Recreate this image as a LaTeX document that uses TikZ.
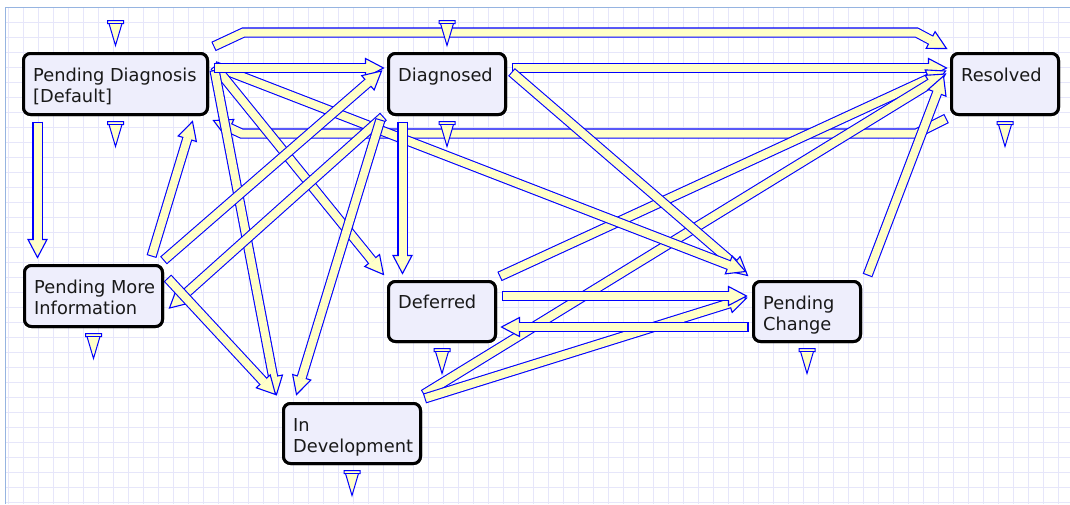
\documentclass[tikz,border=0pt]{standalone}
\usepackage{fontspec}
\setmainfont{DejaVu Sans}
\usetikzlibrary{calc}
\definecolor{ablue}{RGB}{0,0,255}
\definecolor{ayel}{RGB}{255,255,200}
\definecolor{boxfill}{RGB}{238,238,252}
\definecolor{gridc}{RGB}{230,230,250}
\definecolor{framec}{RGB}{150,180,225}
\definecolor{txtc}{RGB}{25,25,25}
% block arrow: #1 start, #2 point after start, #3 middle path (bends, each followed by --),
% #4 last point before tip, #5 tip
\newcommand\barr[5]{%
  \draw[line width=10.2pt, draw=ablue, line join=miter, line cap=butt] (#1) -- #3 ($(#5)!17pt!(#4)$);
  \filldraw[fill=ayel, draw=ablue, line width=1.1pt, line join=miter]
    (#5) -- ($(#5)!18pt!(#4)!9.5pt!90:(#5)$) -- ($(#5)!18pt!(#4)!9.5pt!-90:(#5)$) -- cycle;
  \draw[line width=8pt, draw=ayel, line join=miter, line cap=butt] ($(#1)!1.1pt!(#2)$) -- #3 ($(#5)!17pt!(#4)$);
}
\newcommand\sarr[2]{\barr{#1}{#2}{}{#1}{#2}}
\begin{document}
\begin{tikzpicture}[x=1pt,y=-1pt,
  stbox/.style={draw=black, line width=3pt, rounded corners=7pt, fill=boxfill, inner sep=0pt},
  lbl/.style={anchor=north west, inner sep=0pt, align=left, text=txtc,
    font=\fontsize{17.8}{21}\selectfont},
  mk/.pic={
    \filldraw[fill=ayel, draw=ablue, line width=1pt, line join=miter]
      (-8,0) -- (8,0) -- (8,3) -- (6.5,3) -- (0,25) -- (-6.5,3) -- (-8,3) -- cycle;
    \draw[ablue, line width=1pt] (-6.5,3) -- (6.5,3);
  }]
\useasboundingbox (0,0) rectangle (1070,504);
\fill[white] (0,0) rectangle (1070,504);
% grid
\foreach \x in {8,23,...,1068} \draw[gridc, line width=1pt] (\x,7) -- (\x,504);
\foreach \y in {22,37,...,502} \draw[gridc, line width=1pt] (5,\y) -- (1070,\y);
\draw[framec, line width=1pt] (1070,7) -- (5,7) -- (5,504);

% state boxes
\node[stbox, minimum width=184pt, minimum height=61pt] (pd) at (115.5,84) {};
\node[stbox, minimum width=117pt, minimum height=61pt] (dg) at (447,84) {};
\node[stbox, minimum width=107pt, minimum height=61pt] (rs) at (1005,84) {};
\node[stbox, minimum width=138pt, minimum height=61pt] (pmi) at (93.5,296) {};
\node[stbox, minimum width=107pt, minimum height=60pt] (df) at (442,311.5) {};
\node[stbox, minimum width=107pt, minimum height=60pt] (pc) at (807,311.5) {};
\node[stbox, minimum width=137pt, minimum height=60pt] (id) at (352,433.5) {};

% connector end points
\coordinate (a1s) at ($(pd.north east)+(4.5,-5.5)$);
\coordinate (a1b) at ($(pd.north east)+(34.5,-19.5)$);
\coordinate (a1c) at ($(rs.north west)+(-33.5,-19.5)$);
\coordinate (a1e) at ($(rs.north west)+(-3.5,-3.5)$);
\coordinate (a2s) at ($(pd.east)+(4.5,-16)$);
\coordinate (a2e) at ($(dg.west)+(-3.5,-16)$);
\coordinate (a3s) at ($(pd.south west)+(15.5,5.5)$);
\coordinate (a3e) at ($(pmi.north west)+(14.5,-6.5)$);
\coordinate (a4s) at ($(pd.east)+(5.5,-14)$);
\coordinate (a4e) at ($(id.north west)+(-5.5,-7.5)$);
\coordinate (a5s) at ($(pd.east)+(5.5,-18)$);
\coordinate (a5e) at ($(df.north west)+(-3.5,-5.5)$);
\coordinate (a6s) at ($(pd.east)+(5.5,-18)$);
\coordinate (a6e) at ($(pc.north west)+(-6.5,-8.5)$);
\coordinate (a7s) at ($(rs.south west)+(-3.5,2.5)$);
\coordinate (a7b) at ($(rs.south west)+(-33.5,17.5)$);
\coordinate (a7c) at ($(pd.south east)+(32.5,17.5)$);
\coordinate (a7e) at ($(pd.south east)+(4.5,4.5)$);
\coordinate (a8s) at ($(pmi.north east)+(-12.5,-7.5)$);
\coordinate (a8e) at ($(pd.south east)+(-16.5,5.5)$);
\coordinate (a9s) at ($(pmi.north east)+(-0.5,-3.5)$);
\coordinate (a9e) at ($(dg.west)+(-5.5,-13)$);
\coordinate (a10s) at ($(dg.south west)+(-3.5,0.5)$);
\coordinate (a10e) at ($(pmi.east)+(5.5,12)$);
\coordinate (a11s) at ($(dg.south west)+(-6.5,3.5)$);
\coordinate (a11e) at ($(id.north west)+(14.5,-7.5)$);
\coordinate (a12s) at ($(pmi.east)+(3.5,-18)$);
\coordinate (a12e) at ($(id.north west)+(-6.5,-7.5)$);
\coordinate (a13s) at ($(dg.east)+(4.5,-16)$);
\coordinate (a13e) at ($(rs.west)+(-3.5,-16)$);
\coordinate (a14s) at ($(dg.east)+(4.5,-12)$);
\coordinate (a14e) at ($(pc.north west)+(-4.5,-4.5)$);
\coordinate (a15s) at ($(dg.south west)+(15.5,5.5)$);
\coordinate (a15e) at ($(df.north west)+(15.5,-6.5)$);
\coordinate (a16s) at ($(df.north east)+(2.5,-3.5)$);
\coordinate (a16e) at ($(rs.west)+(-4.5,-13)$);
\coordinate (a17s) at ($(df.east)+(4.5,-15.5)$);
\coordinate (a17e) at ($(pc.west)+(-5.5,-15.5)$);
\coordinate (a18s) at ($(pc.west)+(-3.5,15.5)$);
\coordinate (a18e) at ($(df.east)+(4.5,15.5)$);
\coordinate (a19s) at ($(pc.north east)+(5.5,-4.5)$);
\coordinate (a19e) at ($(rs.west)+(-6.5,-8)$);
\coordinate (a20s) at ($(id.north east)+(1.5,-7.5)$);
\coordinate (a20e) at ($(rs.west)+(-4.5,-10)$);
\coordinate (a21s) at ($(id.north east)+(2.5,-3.5)$);
\coordinate (a21e) at ($(pc.west)+(-5.5,-13.5)$);

% connectors
\barr{a1s}{a1b}{(a1b) -- (a1c) --}{a1c}{a1e}
\barr{a7s}{a7b}{(a7b) -- (a7c) --}{a7c}{a7e}
\sarr{a13s}{a13e}
\sarr{a16s}{a16e}
\sarr{a20s}{a20e}
\sarr{a19s}{a19e}
\sarr{a14s}{a14e}
\sarr{a6s}{a6e}
\sarr{a5s}{a5e}
\sarr{a4s}{a4e}
\sarr{a2s}{a2e}
\sarr{a3s}{a3e}
\sarr{a8s}{a8e}
\sarr{a9s}{a9e}
\sarr{a10s}{a10e}
\sarr{a11s}{a11e}
\sarr{a12s}{a12e}
\sarr{a15s}{a15e}
\sarr{a21s}{a21e}
\sarr{a17s}{a17e}
\sarr{a18s}{a18e}

% redraw boxes on top
\node[stbox, minimum width=184pt, minimum height=61pt] (pdb) at (pd) {};
\node[stbox, minimum width=117pt, minimum height=61pt] (dgb) at (dg) {};
\node[stbox, minimum width=107pt, minimum height=61pt] (rsb) at (rs) {};
\node[stbox, minimum width=138pt, minimum height=61pt] (pmib) at (pmi) {};
\node[stbox, minimum width=107pt, minimum height=60pt] (dfb) at (df) {};
\node[stbox, minimum width=107pt, minimum height=60pt] (pcb) at (pc) {};
\node[stbox, minimum width=137pt, minimum height=60pt] (idb) at (id) {};

% labels
\node[lbl] (pdl) at ($(pd.north west)+(11,16)$) {Pending Diagnosis\\{[Default]}};
\node[lbl] (dgl) at ($(dg.north west)+(11,16)$) {Diagnosed};
\node[lbl] (rsl) at ($(rs.north west)+(11,16)$) {Resolved};
\node[lbl] (pmil) at ($(pmi.north west)+(11,16)$) {Pending More\\Information};
\node[lbl] (dfl) at ($(df.north west)+(11,15)$) {Deferred};
\node[lbl] (pcl) at ($(pc.north west)+(11,16)$) {Pending\\Change};
\node[lbl] (idl) at ($(id.north west)+(11,16)$) {In\\Development};

% markers
\pic at ($(pd.north)+(0,-31.5)$) {mk};
\pic at ($(dg.north)+(0,-31.5)$) {mk};
\pic at ($(pd.south)+(0,5.5)$) {mk};
\pic at ($(dg.south)+(0,5.5)$) {mk};
\pic at ($(rs.south)+(0,5.5)$) {mk};
\pic at ($(pmi.south)+(0,5.5)$) {mk};
\pic at ($(df.south)+(0,5.5)$) {mk};
\pic at ($(pc.south)+(0,5.5)$) {mk};
\pic at ($(id.south)+(0,5.5)$) {mk};
\end{tikzpicture}
\end{document}
